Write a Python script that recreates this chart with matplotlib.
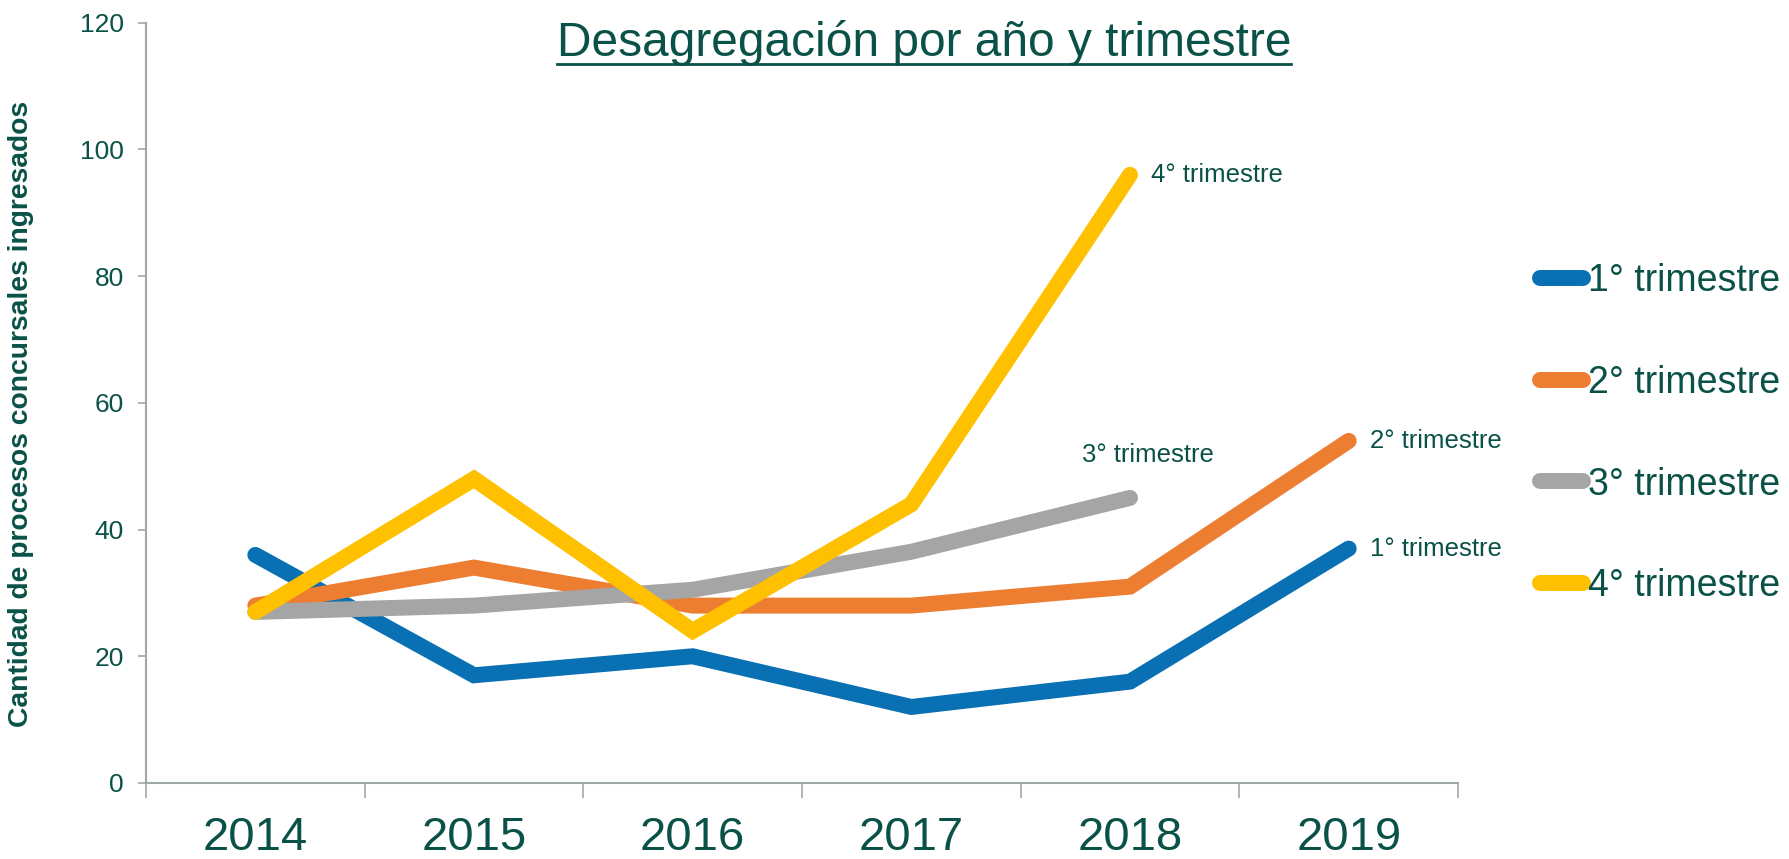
import matplotlib
matplotlib.use("Agg")
import matplotlib.pyplot as plt
from matplotlib.lines import Line2D

plt.rcParams['font.family'] = ['Liberation Sans', 'DejaVu Sans']

years = ["2014", "2015", "2016", "2017", "2018", "2019"]
series_names = ["1° trimestre", "2° trimestre", "3° trimestre", "4° trimestre"]
q1 = [36, 17, 20, 12, 16, 37]
q2 = [28, 34, 28, 28, 31, 54]
q3 = [27, 28, 30.5, 36.5, 45, None]
q4 = [27, 48, 24, 44, 96, None]
colors = ["#0870B3", "#ED7D31", "#A5A5A5", "#FFC000"]
yticks = [0, 20, 40, 60, 80, 100, 120]

TXT = "#0A5247"
AXC = "#A0A8A6"
LW = 11.5

fig = plt.figure(figsize=(17.89, 8.59), dpi=100)
ax = fig.add_axes([0.0816, 0.0885, 0.7334, 0.885])

xs = list(range(len(years)))
all_series = [q1, q2, q3, q4]
handles = []
for vals, c, name in zip(all_series, colors, series_names):
    px = [x for x, v in zip(xs, vals) if v is not None]
    py = [v for v in vals if v is not None]
    ln, = ax.plot(px, py, color=c, lw=LW, solid_capstyle='round',
                  solid_joinstyle='miter', label=name)
    handles.append(ln)

# end-of-line labels
def last_pt(vals):
    idx = max(i for i, v in enumerate(vals) if v is not None)
    return idx, vals[idx]

AFS = 18.5
i, v = last_pt(q4)
ax.annotate(series_names[3], (i, v), xytext=(15, 0), textcoords='offset points',
            ha='left', va='center', fontsize=AFS, color=TXT)
i, v = last_pt(q3)
ax.annotate(series_names[2], (i, v), xytext=(13, 31), textcoords='offset points',
            ha='center', va='center', fontsize=AFS, color=TXT)
i, v = last_pt(q2)
ax.annotate(series_names[1], (i, v), xytext=(15, 0), textcoords='offset points',
            ha='left', va='center', fontsize=AFS, color=TXT)
i, v = last_pt(q1)
ax.annotate(series_names[0], (i, v), xytext=(15, 0), textcoords='offset points',
            ha='left', va='center', fontsize=AFS, color=TXT)

ax.set_xlim(-0.5, len(years) - 0.5)
ax.set_ylim(0, 120)
ax.set_yticks(yticks)
ax.set_yticklabels([str(t) for t in yticks])
ax.set_xticks([x - 0.5 for x in range(len(years) + 1)])
ax.set_xticklabels([])
ax.set_xticks(xs, minor=True)
ax.set_xticklabels(years, minor=True)

for s in ['top', 'right']:
    ax.spines[s].set_visible(False)
for s in ['left', 'bottom']:
    ax.spines[s].set_color(AXC)
    ax.spines[s].set_linewidth(1.5)

ax.tick_params(axis='y', which='major', direction='out', length=6, width=1.2,
               color=AXC, labelcolor=TXT, labelsize=19, pad=10)
ax.tick_params(axis='x', which='major', direction='out', length=11, width=1.2,
               color=AXC)
ax.tick_params(axis='x', which='minor', length=0, labelcolor=TXT,
               labelsize=34, pad=24)

ax.set_ylabel("Cantidad de procesos concursales ingresados", fontsize=20.3,
              fontweight='bold', color=TXT)
ax.yaxis.set_label_coords(-0.085, 0.486)

# title with underline
ty = 0.935
t = fig.text(0.5166, ty, "Desagregación por año y trimestre", ha='center',
             va='baseline', fontsize=34.5, color=TXT)
fig.canvas.draw()
bb = t.get_window_extent().transformed(fig.transFigure.inverted())
uy = ty - 0.0095
fig.add_artist(Line2D([bb.x0, bb.x1], [uy, uy], transform=fig.transFigure,
                      color=TXT, lw=2))

leg = fig.legend(handles=handles, labels=series_names, loc='center left',
                 bbox_to_anchor=(0.861, 0.495), frameon=False, fontsize=27,
                 handlelength=1.15, handletextpad=0.12, labelspacing=1.75,
                 borderaxespad=0, borderpad=0)
for txt in leg.get_texts():
    txt.set_color(TXT)

fig.savefig("out.png", dpi=100)
